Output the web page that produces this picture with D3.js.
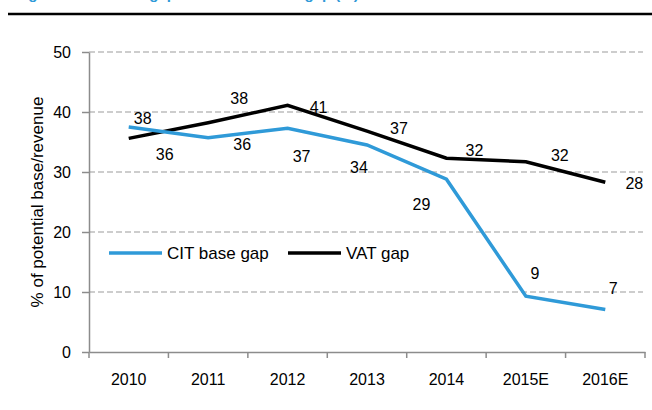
<!DOCTYPE html>
<meta charset="utf-8">
<script src="https://d3js.org/d3.v7.min.js"></script>
<style>
  body{margin:0;background:#fff;}
  text{font-family:"Liberation Sans",Arial,sans-serif;}
</style>
<body>
<div id="chart"></div>
<script>
const years=["2010","2011","2012","2013","2014","2015E","2016E"];
const citGap=[37.5,35.7,37.3,34.5,28.8,9.3,7.1];
const vatGap=[35.6,38.2,41.1,36.8,32.3,31.7,28.3];
const citLabels=["38","36","37","34","29","9","7"];
const vatLabels=["36","38","41","37","32","32","28"];
const yTicks=[0,10,20,30,40,50];

// label offsets (px) from each point, as placed in the original
const citOff=[[14,-9],[34,7],[14,28],[-8,22],[-25,25],[9,-23],[8,-21]];
const vatOff=[[36,16],[31,-24],[31,2],[32,-3],[28,-8],[34,-6],[29,1]];

const W=652,H=410;
const margin={top:52,left:89,right:7,bottom:58};
const width=W-margin.left-margin.right,
      height=H-margin.top-margin.bottom;

const svg=d3.select("#chart").append("svg")
    .attr("width",W).attr("height",H);

// title (cut off at the top of the picture) and rule
svg.append("text")
    .attr("x",15).attr("y",-1.5)
    .attr("fill","#2f9ad8").style("font-weight","bold").style("font-size","15px")
    .text("Figure 5: CIT base gap and VAT revenue gap (%)");
svg.append("line")
    .attr("x1",8).attr("x2",W).attr("y1",14).attr("y2",14)
    .attr("stroke","#000").attr("stroke-width",2.5);

const g=svg.append("g").attr("transform",`translate(${margin.left},${margin.top})`);

const x=d3.scaleBand().domain(years).range([0,width]);
const y=d3.scaleLinear().domain([0,50]).range([height,0]);
const cx=d=>x(d)+x.bandwidth()/2;

// gridlines
g.selectAll(".grid").data(yTicks.filter(t=>t>0)).join("line")
    .attr("x1",0).attr("x2",width-2)
    .attr("y1",d=>y(d)).attr("y2",d=>y(d))
    .attr("stroke","#bdbdbd").attr("stroke-width",1.3).attr("stroke-dasharray","6,3");

// y axis
const yAxis=g.append("g")
    .call(d3.axisLeft(y).tickValues(yTicks).tickSize(7).tickPadding(11).tickSizeOuter(0));
yAxis.select(".domain").attr("stroke","#8c8c8c").attr("stroke-width",1.5);
yAxis.selectAll(".tick line").attr("stroke","#8c8c8c").attr("stroke-width",1.5);
yAxis.selectAll("text").style("font-size","16px").attr("fill","#000");

// x axis
const xAxis=g.append("g").attr("transform",`translate(0,${height})`)
    .call(d3.axisBottom(x).tickSize(0).tickPadding(22));
xAxis.select(".domain").attr("stroke","#8c8c8c").attr("stroke-width",1.5);
xAxis.selectAll("text").style("font-size","16px").attr("fill","#000");
xAxis.selectAll(".xt").data(d3.range(years.length+1)).join("line")
    .attr("x1",i=>i*x.step()).attr("x2",i=>i*x.step())
    .attr("y1",0).attr("y2",6)
    .attr("stroke","#8c8c8c").attr("stroke-width",1.5);

// y title
svg.append("text")
    .attr("transform",`translate(43,${margin.top+height/2}) rotate(-90)`)
    .attr("text-anchor","middle").style("font-size","17px")
    .text("% of potential base/revenue");

// lines
const line=d3.line().x((d,i)=>cx(years[i])).y(d=>y(d));
g.append("path").datum(vatGap).attr("d",line)
    .attr("fill","none").attr("stroke","#000").attr("stroke-width",3.5);
g.append("path").datum(citGap).attr("d",line)
    .attr("fill","none").attr("stroke","#2f9ad8").attr("stroke-width",3.5);

// data labels
function labels(vals,labs,off){
  g.append("g").selectAll("text").data(vals).join("text")
    .attr("x",(d,i)=>cx(years[i])+off[i][0])
    .attr("y",(d,i)=>y(d)+off[i][1])
    .attr("dy","0.35em").attr("text-anchor","middle")
    .style("font-size","16px")
    .text((d,i)=>labs[i]);
}
labels(citGap,citLabels,citOff);
labels(vatGap,vatLabels,vatOff);

// legend
const legend=[{name:"CIT base gap",color:"#2f9ad8",x:20},{name:"VAT gap",color:"#000",x:199}];
const lg=g.append("g").attr("transform",`translate(0,${y(16.5)})`);
legend.forEach(l=>{
  lg.append("line").attr("x1",l.x).attr("x2",l.x+53)
    .attr("stroke",l.color).attr("stroke-width",3.5);
  lg.append("text").attr("x",l.x+58).attr("dy","0.35em")
    .style("font-size","17px").text(l.name);
});
</script>
</body>
